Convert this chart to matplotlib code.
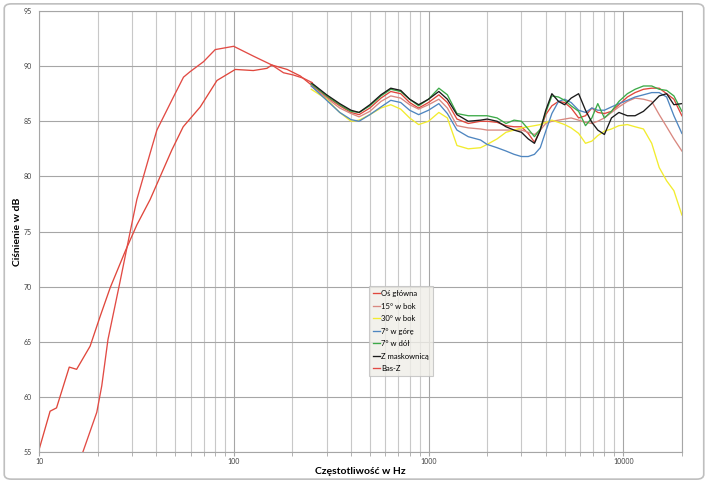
import matplotlib
matplotlib.use("Agg")
import matplotlib.pyplot as plt
from matplotlib.patches import FancyBboxPatch
from matplotlib.ticker import FixedLocator, NullFormatter

plt.rcParams['font.family'] = ['Lato', 'DejaVu Sans']

# frequency grid for the 250 Hz - 20 kHz measurements
f_hi = [250, 300, 350, 400, 440, 500, 570, 640, 720, 800, 890, 1000, 1130, 1250, 1400, 1600,
        1850, 2000, 2250, 2500, 2750, 3000, 3250, 3500, 3750, 4000,
        4300, 4650, 5000, 5400, 5900, 6400, 6900, 7400, 8000, 8700,
        9500, 10500, 11500, 12700, 14000, 15300, 16700, 18200, 20000]

os_glowna = [88.3, 87.2, 86.4, 85.8, 85.6, 86.2, 87.1, 87.7, 87.5, 86.7, 86.2, 86.7, 87.4, 86.7, 85.2, 84.8,
             85.0, 85.0, 84.9, 84.6, 84.5, 84.5, 83.9, 83.1, 84.2, 85.6,
             86.4, 86.8, 86.7, 86.2, 85.3, 85.5, 86.2, 85.8, 85.7, 85.9,
             86.5, 87.2, 87.6, 87.9, 88.0, 88.0, 87.5, 87.0, 85.5]
bok15 = [88.2, 87.1, 86.2, 85.7, 85.4, 85.9, 86.8, 87.3, 87.1, 86.5, 86.1, 86.5, 87.0, 86.2, 84.6, 84.4,
         84.3, 84.2, 84.2, 84.2, 84.2, 84.2, 84.0, 83.8, 84.2, 84.8,
         85.0, 85.1, 85.2, 85.3, 85.1, 84.9, 84.8, 85.0, 85.3, 85.8,
         86.3, 86.8, 87.1, 87.0, 86.8, 85.6, 84.5, 83.4, 82.3]
bok30 = [87.9, 87.0, 85.8, 85.0, 85.1, 85.6, 86.2, 86.5, 86.1, 85.3, 84.7, 85.0, 85.8, 85.3, 82.8, 82.5,
         82.6, 82.9, 83.4, 84.0, 84.2, 84.4, 84.5, 84.6, 84.7, 84.9,
         85.1, 84.9, 84.7, 84.4, 83.9, 83.0, 83.2, 83.7, 84.1, 84.3,
         84.6, 84.7, 84.5, 84.3, 83.0, 80.8, 79.6, 78.7, 76.5]
gora7 = [88.2, 86.9, 85.8, 85.15, 85.0, 85.6, 86.3, 86.9, 86.7, 86.0, 85.6, 86.0, 86.6, 85.7, 84.2, 83.6,
         83.3, 82.9, 82.6, 82.3, 82.0, 81.8, 81.8, 82.0, 82.6, 84.1,
         85.7, 86.8, 87.0, 86.7, 86.0, 85.8, 86.2, 86.0, 86.0, 86.3,
         86.6, 86.9, 87.2, 87.4, 87.6, 87.6, 87.2, 85.5, 83.9]
dol7 = [88.4, 87.3, 86.5, 85.9, 85.8, 86.4, 87.3, 87.9, 87.7, 87.0, 86.4, 87.0, 88.0, 87.4, 85.7, 85.5,
        85.5, 85.5, 85.3, 84.8, 85.1, 85.0, 84.3, 83.6, 84.3, 85.8,
        87.3, 87.2, 86.9, 86.4, 85.9, 84.6, 85.3, 86.6, 85.3, 85.9,
        86.8, 87.5, 87.9, 88.2, 88.2, 87.9, 87.8, 87.3, 85.9]
maskownica = [88.5, 87.4, 86.6, 86.0, 85.8, 86.5, 87.4, 88.0, 87.8, 87.0, 86.5, 87.0, 87.7, 87.0, 85.6, 85.0,
              85.1, 85.2, 85.0, 84.5, 84.2, 84.0, 83.4, 83.0, 84.2, 86.0,
              87.5, 86.8, 86.5, 87.1, 87.5, 86.0, 84.9, 84.2, 83.8, 85.3,
              85.8, 85.5, 85.5, 85.9, 86.6, 87.3, 87.5, 86.5, 86.6]

# low frequency part of the main-axis curve
f_os_low = [10, 11.4, 12.3, 14.3, 15.6, 18.3, 20.6, 23.2, 27.7, 31.8, 37.2, 48.1,
            55.0, 67.3, 82.0, 101.8, 126, 148, 157, 188, 220]
os_low = [55.2, 58.7, 59.0, 62.7, 62.5, 64.6, 67.3, 69.9, 73.2, 75.6, 77.9, 82.4,
          84.5, 86.3, 88.7, 89.7, 89.6, 89.8, 90.1, 89.7, 89.1]

f_bas = [16.8, 19.8, 21.0, 22.6, 26.1, 29.4, 31.8, 37.2, 40.3, 49.0, 55.2, 59.7,
         69.9, 80.3, 99.9, 126.4, 157, 180, 202, 228, 253]
bas_z = [55.0, 58.6, 61.0, 65.2, 70.5, 75.0, 77.9, 82.1, 84.2, 87.2, 89.0, 89.5,
         90.4, 91.5, 91.8, 90.9, 90.1, 89.4, 89.2, 88.9, 88.5]

fig = plt.figure(figsize=(7.08, 4.83), dpi=100)
fig.patches.append(FancyBboxPatch((0.006, 0.008), 0.988, 0.984, boxstyle="round,pad=0,rounding_size=0.01",
                                  transform=fig.transFigure, facecolor='white', edgecolor='#BFBFBF',
                                  linewidth=1.2, zorder=-1))
ax = fig.add_axes([0.0551, 0.0642, 0.908, 0.913])
ax.set_facecolor('none')

lw = 0.95
ax.plot(f_os_low + f_hi, os_low + os_glowna, color='#E0473C', lw=lw, label='Oś główna')
ax.plot(f_hi, bok15, color='#D98880', lw=lw, label='15° w bok')
ax.plot(f_hi, bok30, color='#F2EC2E', lw=lw, label='30° w bok')
ax.plot(f_hi, gora7, color='#4F86C0', lw=lw, label='7° w górę')
ax.plot(f_hi, dol7, color='#3CAA48', lw=lw, label='7° w dół')
ax.plot(f_hi, maskownica, color='#1A1A1A', lw=lw, label='Z maskownicą')
ax.plot(f_bas, bas_z, color='#E24B45', lw=lw, label='Bas-Z')

ax.set_xscale('log')
ax.set_xlim(10, 20000)
ax.set_ylim(55, 95)
ax.set_yticks(range(55, 96, 5))
ax.xaxis.set_major_locator(FixedLocator([10, 100, 1000, 10000]))
ax.set_xticklabels(['10', '100', '1000', '10000'])
minors = [m * 10 ** d for d in range(1, 5) for m in range(2, 10) if m * 10 ** d <= 20000]
ax.xaxis.set_minor_locator(FixedLocator(minors))
ax.xaxis.set_minor_formatter(NullFormatter())

ax.grid(True, which='major', color='#A6A6A6', lw=0.8)
ax.grid(True, which='minor', axis='x', color='#C8C8C8', lw=0.8)
ax.set_axisbelow(True)
for s in ax.spines.values():
    s.set_color('#A6A6A6')
    s.set_linewidth(0.8)
ax.tick_params(axis='both', which='both', labelsize=5, colors='#A6A6A6', labelcolor='#404040', length=3)
ax.tick_params(axis='y', length=0, pad=5)
ax.tick_params(axis='x', which='major', pad=1.5)

ax.set_xlabel('Częstotliwość w Hz', fontsize=7.5, fontweight='bold', labelpad=1)
ax.set_ylabel('Ciśnienie w dB', fontsize=7.5, fontweight='bold', labelpad=1)

leg = ax.legend(loc='upper left', bbox_to_anchor=(0.521, 0.408), bbox_transform=fig.transFigure,
                fontsize=5.5, frameon=True, fancybox=False, borderaxespad=0, handlelength=0.9,
                handletextpad=0.15, labelspacing=0.72, borderpad=0.55)
leg.get_frame().set_facecolor('#EFEEE8')
leg.get_frame().set_edgecolor('#BFBFBF')
leg.get_frame().set_linewidth(0.8)

fig.savefig('out.png', dpi=100)
